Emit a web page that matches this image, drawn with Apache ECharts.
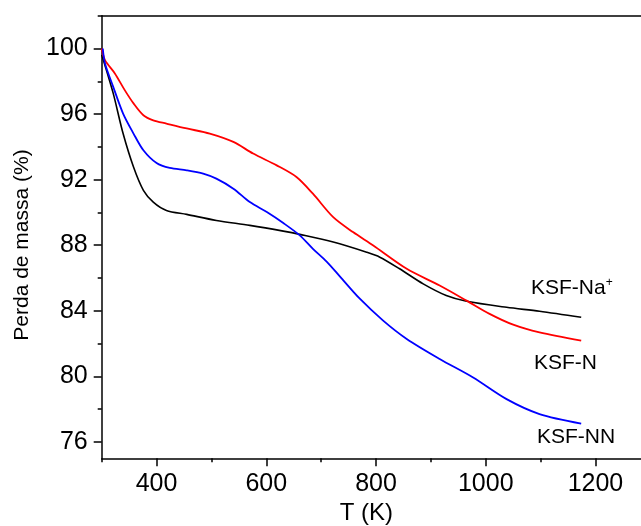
<!DOCTYPE html>
<html>
<head>
<meta charset="utf-8">
<script src="https://cdn.jsdelivr.net/npm/echarts@6/dist/echarts.min.js"></script>
<style>html,body{margin:0;padding:0;background:#fff}#c{width:641px;height:526px}</style>
</head>
<body>
<div id="c"></div>
<script>
// Data: [T (K), mass %]
const ksfNa = [[300,99.6],[303,99.3],[321,97.26],[339,94.81],[358,92.77],[376,91.35],[394,90.63],[418,90.12],[455,89.88],[509,89.51],[570,89.21],[631,88.86],[661,88.66],[722,88.19],[783,87.57],[807,87.27],[843,86.56],[886,85.64],[928,84.93],[965,84.58],[1038,84.21],[1098,83.97],[1174,83.6]];
const ksfN = [[300,100],[306,99.29],[324,98.48],[342,97.46],[358,96.65],[376,95.93],[394,95.62],[418,95.42],[455,95.12],[497,94.81],[540,94.3],[576,93.59],[619,92.87],[655,92.16],[685,91.14],[722,89.71],[758,88.8],[795,87.98],[856,86.56],[916,85.54],[965,84.62],[1007,83.81],[1050,83.15],[1098,82.68],[1174,82.18]];
const ksfNN = [[302,100],[306,99.09],[321,97.66],[339,96.03],[358,94.81],[376,93.79],[400,93.01],[424,92.71],[455,92.57],[485,92.37],[509,92.06],[540,91.45],[570,90.63],[601,90.02],[631,89.35],[661,88.6],[685,87.78],[710,87.0],[734,86.1],[770,84.75],[813,83.4],[856,82.28],[916,81.06],[977,79.93],[1038,78.61],[1098,77.7],[1174,77.12]];
const xMajor = [400,600,800,1000,1200];
const xMinor = [300,500,700,900,1100];
const yMajor = [76,80,84,88,92,96,100];
const yMinor = [78,82,86,90,94,98,102];
const seriesNames = ['KSF-Na+','KSF-N','KSF-NN'];

const chart = echarts.init(document.getElementById('c'));
const font = 'Liberation Sans';
const X_MIN = 300, X_MAX = 1283, Y_MIN = 75, Y_MAX = 102;
const axisLineStyle = {color:'#000', width:1.5};
chart.setOption({
  animation:false,
  grid:{left:101.7, right:0, top:15.7, bottom:67.7, containLabel:false, outerBoundsMode:'none'},
  xAxis:[
    {type:'value', min:X_MIN, max:X_MAX, position:'bottom',
     axisLine:{show:true, onZero:false, lineStyle:axisLineStyle},
     axisTick:{show:true, length:8, lineStyle:axisLineStyle, customValues:xMajor},
     axisLabel:{show:true, customValues:xMajor, formatter:(v)=>String(v), fontFamily:font, fontSize:25, color:'#000', margin:13},
     splitLine:{show:false},
     name:'T (K)', nameLocation:'middle', nameGap:41,
     nameTextStyle:{fontFamily:font, fontSize:24, color:'#000', padding:[0,10,0,0]}},
    {type:'value', min:X_MIN, max:X_MAX, position:'bottom',
     axisLine:{show:false},
     axisTick:{show:true, length:4, lineStyle:axisLineStyle, customValues:xMinor},
     axisLabel:{show:false}, splitLine:{show:false}},
    {type:'value', min:X_MIN, max:X_MAX, position:'top',
     axisLine:{show:true, onZero:false, lineStyle:axisLineStyle},
     axisTick:{show:false}, axisLabel:{show:false}, splitLine:{show:false}}
  ],
  yAxis:[
    {type:'value', min:Y_MIN, max:Y_MAX, position:'left',
     axisLine:{show:true, onZero:false, lineStyle:axisLineStyle},
     axisTick:{show:true, length:8, lineStyle:axisLineStyle, customValues:yMajor},
     axisLabel:{show:true, customValues:yMajor, fontFamily:font, fontSize:25, color:'#000', margin:14},
     splitLine:{show:false},
     name:'Perda de massa (%)', nameLocation:'middle', nameGap:69, nameRotate:90,
     nameTextStyle:{fontFamily:font, fontSize:21, color:'#000', padding:[0,16,0,0]}},
    {type:'value', min:Y_MIN, max:Y_MAX, position:'left',
     axisLine:{show:false},
     axisTick:{show:true, length:4, lineStyle:axisLineStyle, customValues:yMinor},
     axisLabel:{show:false}, splitLine:{show:false}}
  ],
  series:[
    {name:seriesNames[0], type:'line', data:ksfNa, smooth:0.3, symbol:'none', xAxisIndex:0, yAxisIndex:0,
     lineStyle:{color:'#000', width:1.6}},
    {name:seriesNames[1], type:'line', data:ksfN, smooth:0.3, symbol:'none', xAxisIndex:0, yAxisIndex:0,
     lineStyle:{color:'#ff0000', width:1.8}},
    {name:seriesNames[2], type:'line', data:ksfNN, smooth:0.3, symbol:'none', xAxisIndex:0, yAxisIndex:0,
     lineStyle:{color:'#0000ff', width:1.8}}
  ],
  graphic:[
    {type:'text', left:531, top:277, style:{text:'KSF-Na{sup|+}', font:'21px Liberation Sans', fill:'#000',
      rich:{sup:{fontSize:12, fontFamily:font, fill:'#000', verticalAlign:'top', padding:[0,0,10,0]}}}},
    {type:'text', left:534, top:353, style:{text:'KSF-N', font:'21px Liberation Sans', fill:'#000'}},
    {type:'text', left:537, top:427, style:{text:'KSF-NN', font:'21px Liberation Sans', fill:'#000'}}
  ]
});
</script>
</body>
</html>
